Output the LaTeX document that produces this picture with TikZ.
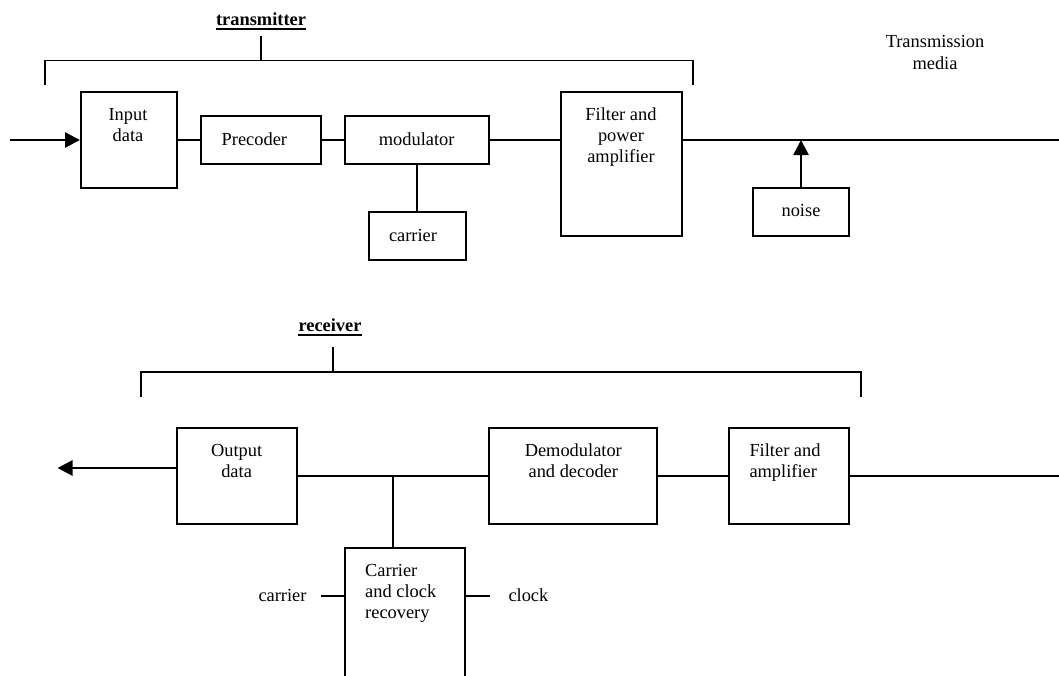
\documentclass[tikz,border=0pt]{standalone}
\usepackage{fontspec}
\setmainfont{Liberation Serif}
\usetikzlibrary{arrows.meta,calc}
\begin{document}
\begin{tikzpicture}[x=1pt,y=-1pt,
  box/.style={draw,line width=2pt,inner sep=0pt},
  wire/.style={line width=1.8pt},
  sig/.style={line width=2.7pt,-{Triangle[length=15pt,width=15pt]}},
  txt/.style={inner sep=0pt,font=\fontsize{18.4}{21.3}\selectfont,align=center},
  ttl/.style={txt,font=\fontsize{18.4}{21.3}\selectfont\bfseries},
  uline/.style={line width=1.5pt}]
\useasboundingbox (0,0) rectangle (1059,675);
\fill[white] (0,0) rectangle (1059,675);
\clip (0,0) rectangle (1059,675);

% ---------------- transmitter ----------------
\node[ttl,anchor=base] (tx) at (261,25) {transmitter};
\draw[uline] ($(tx.base west)+(0,4)$) -- ($(tx.base east)+(0,4)$);
\coordinate (txtick) at (261,35.7);
\coordinate (txbar)  at (261,60.5);
\coordinate (txL) at (44.6,60.5);
\coordinate (txR) at (693,60.5);
\draw[wire] (txtick) -- (txbar);
\draw[wire] ($(txL)+(0,24)$) -- (txL) -- (txR) -- ($(txR)+(0,24)$);

\node[box,minimum width=96,minimum height=96]   (inp)   at (129,140) {};
\node[box,minimum width=120.4,minimum height=48] (pre)   at (261,140) {};
\node[box,minimum width=144.6,minimum height=48] (mod)   at (417,140) {};
\node[box,minimum width=97,minimum height=48]    (car)   at (417,236) {};
\node[box,minimum width=121,minimum height=144]  (fpa)   at (621,164) {};
\node[box,minimum width=96,minimum height=48]    (noise) at (801,212.3) {};

\node[txt,anchor=north] at (128,105.1) {\strut Input\\data};
\node[txt,anchor=base]  at (254.4,145) {Precoder};
\node[txt,anchor=base]  at (416.7,145) {modulator};
\node[txt,anchor=base]  at (413,241) {carrier};
\node[txt,anchor=north] at (621,105.1) {\strut Filter and\\power\\amplifier};
\node[txt,anchor=base]  at (801,216.7) {noise};
\node[txt,anchor=north] (media) at (935,32.8) {\strut Transmission\\media};

\coordinate (txin)  at (10,140);
\coordinate (txout) at (1059,140);
\draw[sig] (txin) -- (inp.west);
\draw[wire] (inp.east) -- (pre.west);
\draw[wire] (pre.east) -- (mod.west);
\draw[wire] (mod.east) -- (fpa.west |- mod.east);
\draw[wire] (fpa.east |- mod.east) -- (txout);
\draw[wire] (mod.south) -- (car.north);
\draw[sig] (noise.north) -- (noise.north |- txout);

% ---------------- receiver ----------------
\node[ttl,anchor=base] (rx) at (330,331) {receiver};
\draw[uline] ($(rx.base west)+(0,4)$) -- ($(rx.base east)+(0,4)$);
\coordinate (rxtick) at (333,347.3);
\coordinate (rxbar)  at (333,372);
\coordinate (rxL) at (141,372);
\coordinate (rxR) at (860.7,372);
\draw[wire] (rxtick) -- (rxbar);
\draw[wire] ($(rxL)+(0,24.7)$) -- (rxL) -- (rxR) -- ($(rxR)+(0,24.7)$);

\node[box,minimum width=120.6,minimum height=96] (out) at (237,476) {};
\node[box,minimum width=168.3,minimum height=96] (dem) at (573,476) {};
\node[box,minimum width=120.2,minimum height=96] (fam) at (789,476) {};
\node[box,minimum width=120,minimum height=144]  (ccr) at (405,620.3) {};

\node[txt,anchor=north] at (236.6,441.1) {\strut Output\\data};
\node[txt,anchor=north] at (573.3,441.1) {\strut Demodulator\\and decoder};
\node[txt,anchor=north west,align=left] at (749.3,441.1) {\strut Filter and\\amplifier};
\node[txt,anchor=north west,align=left] at (365,561.1) {\strut Carrier\\and clock\\recovery};
\node[txt,anchor=base east] (carlbl) at (306.7,601.7) {carrier};
\node[txt,anchor=base west] (clklbl) at (508.3,601.7) {clock};

\coordinate (rxin)  at (1059,476);
\coordinate (rxtip) at (57.5,468);
\coordinate (junc)  at (393,476);
\coordinate (carend) at (321,596);
\coordinate (clkend) at (490,596);
\draw[wire] (rxin) -- (fam.east);
\draw[wire] (fam.west) -- (dem.east);
\draw[wire] (dem.west) -- (out.east);
\draw[wire] (junc) -- (junc |- ccr.north);
\draw[sig] (rxtip -| out.west) -- (rxtip);
\draw[wire] (carend) -- (carend -| ccr.west);
\draw[wire] (ccr.east |- clkend) -- (clkend);
\end{tikzpicture}
\end{document}
